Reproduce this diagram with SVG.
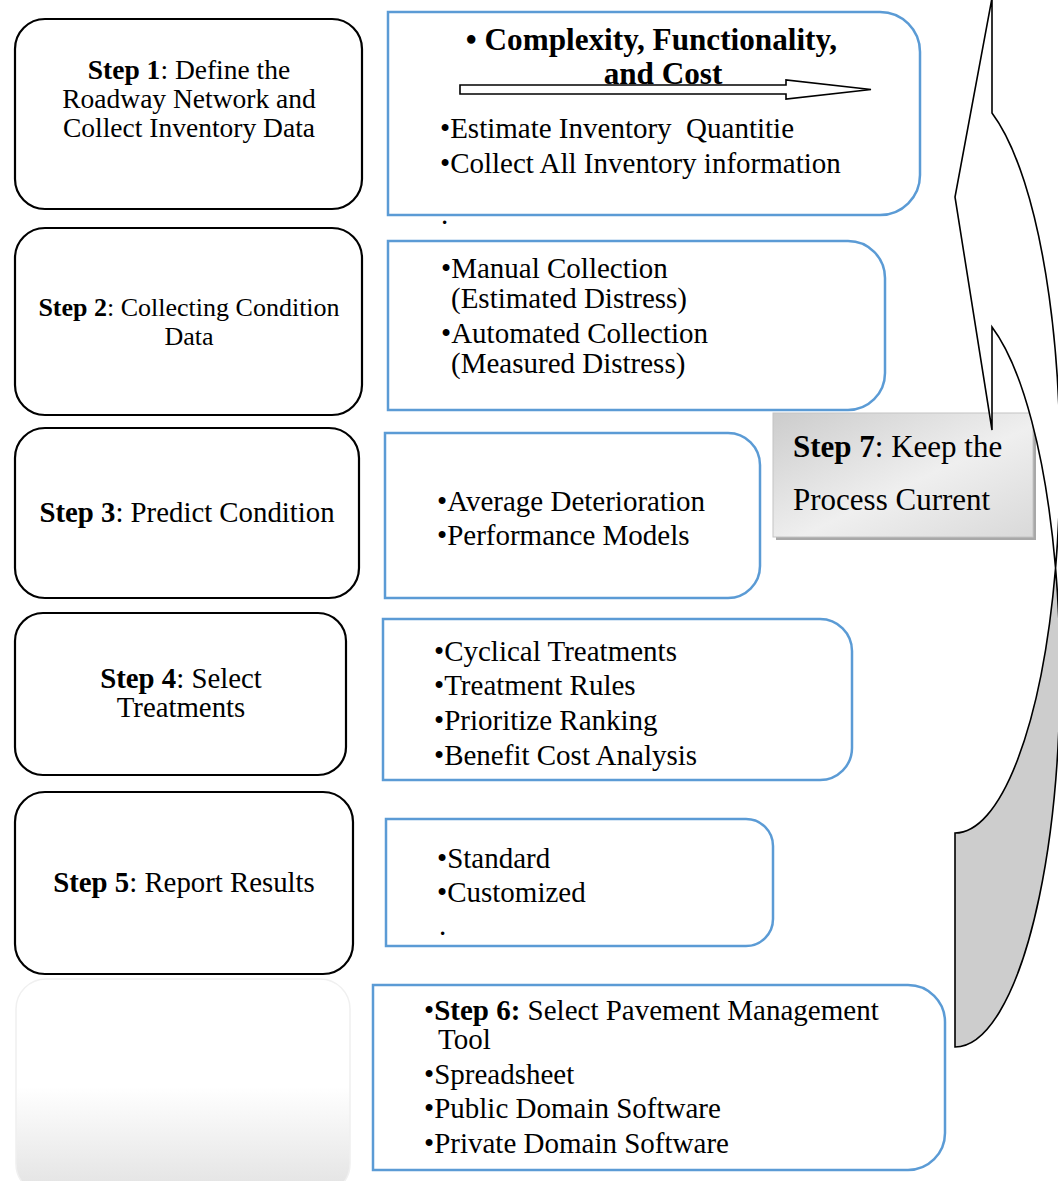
<svg xmlns="http://www.w3.org/2000/svg" width="1058" height="1181" viewBox="0 0 1058 1181">
<style>
text{font-family:"Liberation Serif","Times New Roman",serif;font-size:28.8px;fill:#000;white-space:pre}
.c{text-anchor:middle}
.b{font-weight:bold}
.r{font-size:29px}
.s1{font-size:27.5px}
.s2{font-size:26px}
.h{font-size:31.2px}
.s7{font-size:31px}
.lbox{fill:#fff;stroke:#000;stroke-width:2.2}
.rbox{fill:#fff;stroke:#5b9bd5;stroke-width:2.5}
.ar{stroke:#000;stroke-width:1.6;stroke-linejoin:miter}
</style>
<defs>
<linearGradient id="fade" x1="0" y1="0" x2="0" y2="1">
<stop offset="0" stop-color="#fff"/><stop offset="0.5" stop-color="#fff"/><stop offset="1" stop-color="#e2e2e2"/>
</linearGradient>
<linearGradient id="s7g" x1="0" y1="0" x2="1" y2="1">
<stop offset="0" stop-color="#cccccc"/><stop offset="0.55" stop-color="#efefef"/><stop offset="1" stop-color="#d9d9d9"/>
</linearGradient>
</defs>

<g id="step1"><rect class="lbox" x="15" y="19" width="347" height="190" rx="30"/>
<text class="c s1" x="189" y="79"><tspan class="b">Step 1</tspan>: Define the</text>
<text class="c s1" x="189" y="108">Roadway Network and</text>
<text class="c s1" x="189" y="137">Collect Inventory Data</text></g>

<g id="step2"><rect class="lbox" x="15" y="228" width="347" height="187" rx="30"/>
<text class="c s2" x="189" y="316"><tspan class="b">Step 2</tspan>: Collecting Condition</text>
<text class="c s2" x="189" y="345">Data</text></g>

<g id="step3"><rect class="lbox" x="15" y="428" width="344" height="170" rx="30"/>
<text class="c" x="187" y="522"><tspan class="b">Step 3</tspan>: Predict Condition</text></g>

<g id="step4"><rect class="lbox" x="15" y="613" width="331" height="162" rx="28"/>
<text class="c" x="181" y="688"><tspan class="b">Step 4</tspan>: Select</text>
<text class="c" x="181" y="717">Treatments</text></g>

<g id="step5"><rect class="lbox" x="15" y="792" width="338" height="182" rx="30"/>
<text class="c" x="184" y="892"><tspan class="b">Step 5</tspan>: Report Results</text></g>

<g id="blank"><rect x="16" y="979" width="334" height="215" rx="30" fill="url(#fade)" stroke="#f0f0f0" stroke-width="1.5"/></g>

<g id="detail1"><path class="rbox" d="M388,12 H880 A40,40 0 0 1 920,52 V175 A40,40 0 0 1 880,215 H388 Z"/>
<text class="c b h" x="651.5" y="50">• Complexity, Functionality,</text>
<text class="c b h" x="663" y="84">and Cost</text>
<text class="r" x="440" y="138">•Estimate Inventory  Quantitie</text>
<text class="r" x="440" y="173">•Collect All Inventory information</text></g>
<text class="r" x="441" y="224">.</text>

<g id="detail2"><path class="rbox" d="M388,241 H848 A37,37 0 0 1 885,278 V373 A37,37 0 0 1 848,410 H388 Z"/>
<text class="r" x="441" y="278">•Manual Collection</text>
<text class="r" x="451" y="308">(Estimated Distress)</text>
<text class="r" x="441" y="343">•Automated Collection</text>
<text class="r" x="451" y="373">(Measured Distress)</text></g>

<g id="detail3"><path class="rbox" d="M385,433 H728 A32,32 0 0 1 760,465 V566 A32,32 0 0 1 728,598 H385 Z"/>
<text class="r" x="437" y="511">•Average Deterioration</text>
<text class="r" x="437" y="545">•Performance Models</text></g>

<g id="detail4"><path class="rbox" d="M383,619 H820 A32,32 0 0 1 852,651 V748 A32,32 0 0 1 820,780 H383 Z"/>
<text class="r" x="434" y="661">•Cyclical Treatments</text>
<text class="r" x="434" y="695">•Treatment Rules</text>
<text class="r" x="434" y="730">•Prioritize Ranking</text>
<text class="r" x="434" y="765">•Benefit Cost Analysis</text></g>

<g id="detail5"><path class="rbox" d="M386,819 H746 A27,27 0 0 1 773,846 V919 A27,27 0 0 1 746,946 H386 Z"/>
<text class="r" x="437" y="868">•Standard</text>
<text class="r" x="437" y="902">•Customized</text>
<text class="r" x="439" y="935">.</text></g>

<g id="step6"><path class="rbox" d="M373,985 H908 A37,37 0 0 1 945,1022 V1133 A37,37 0 0 1 908,1170 H373 Z"/>
<text class="r" x="424" y="1020">•<tspan class="b">Step 6:</tspan> Select Pavement Management</text>
<text class="r" x="438" y="1049">Tool</text>
<text class="r" x="424" y="1084">•Spreadsheet</text>
<text class="r" x="424" y="1118">•Public Domain Software</text>
<text class="r" x="424" y="1153">•Private Domain Software</text></g>

<g id="step7"><rect x="776" y="416" width="260" height="124" fill="#a8a8a8"/>
<rect x="773" y="413" width="260" height="124" fill="url(#s7g)" stroke="#c4c4c4" stroke-width="1"/>
<text class="s7" x="793" y="457"><tspan class="b">Step 7</tspan>: Keep the</text>
<text class="s7" x="793" y="510">Process Current</text></g>

<g id="connectors">
<path class="ar" fill="#fff" d="M460,85 H786 V80 L871,89.5 L786,99 V94 H460 Z"/>
<path class="ar" fill="#fff" d="M992,112.9 A105,372 0 0 1 1055.56,568 A105,372 0 0 0 992,326.9 L992,430 L955,197 L992,-2 Z"/>
<path class="ar" fill="#cdcdcd" d="M1055.56,568 A105,372 0 0 1 955,1047 L955,833 A105,372 0 0 0 1055.56,568 Z"/>
</g>
</svg>
